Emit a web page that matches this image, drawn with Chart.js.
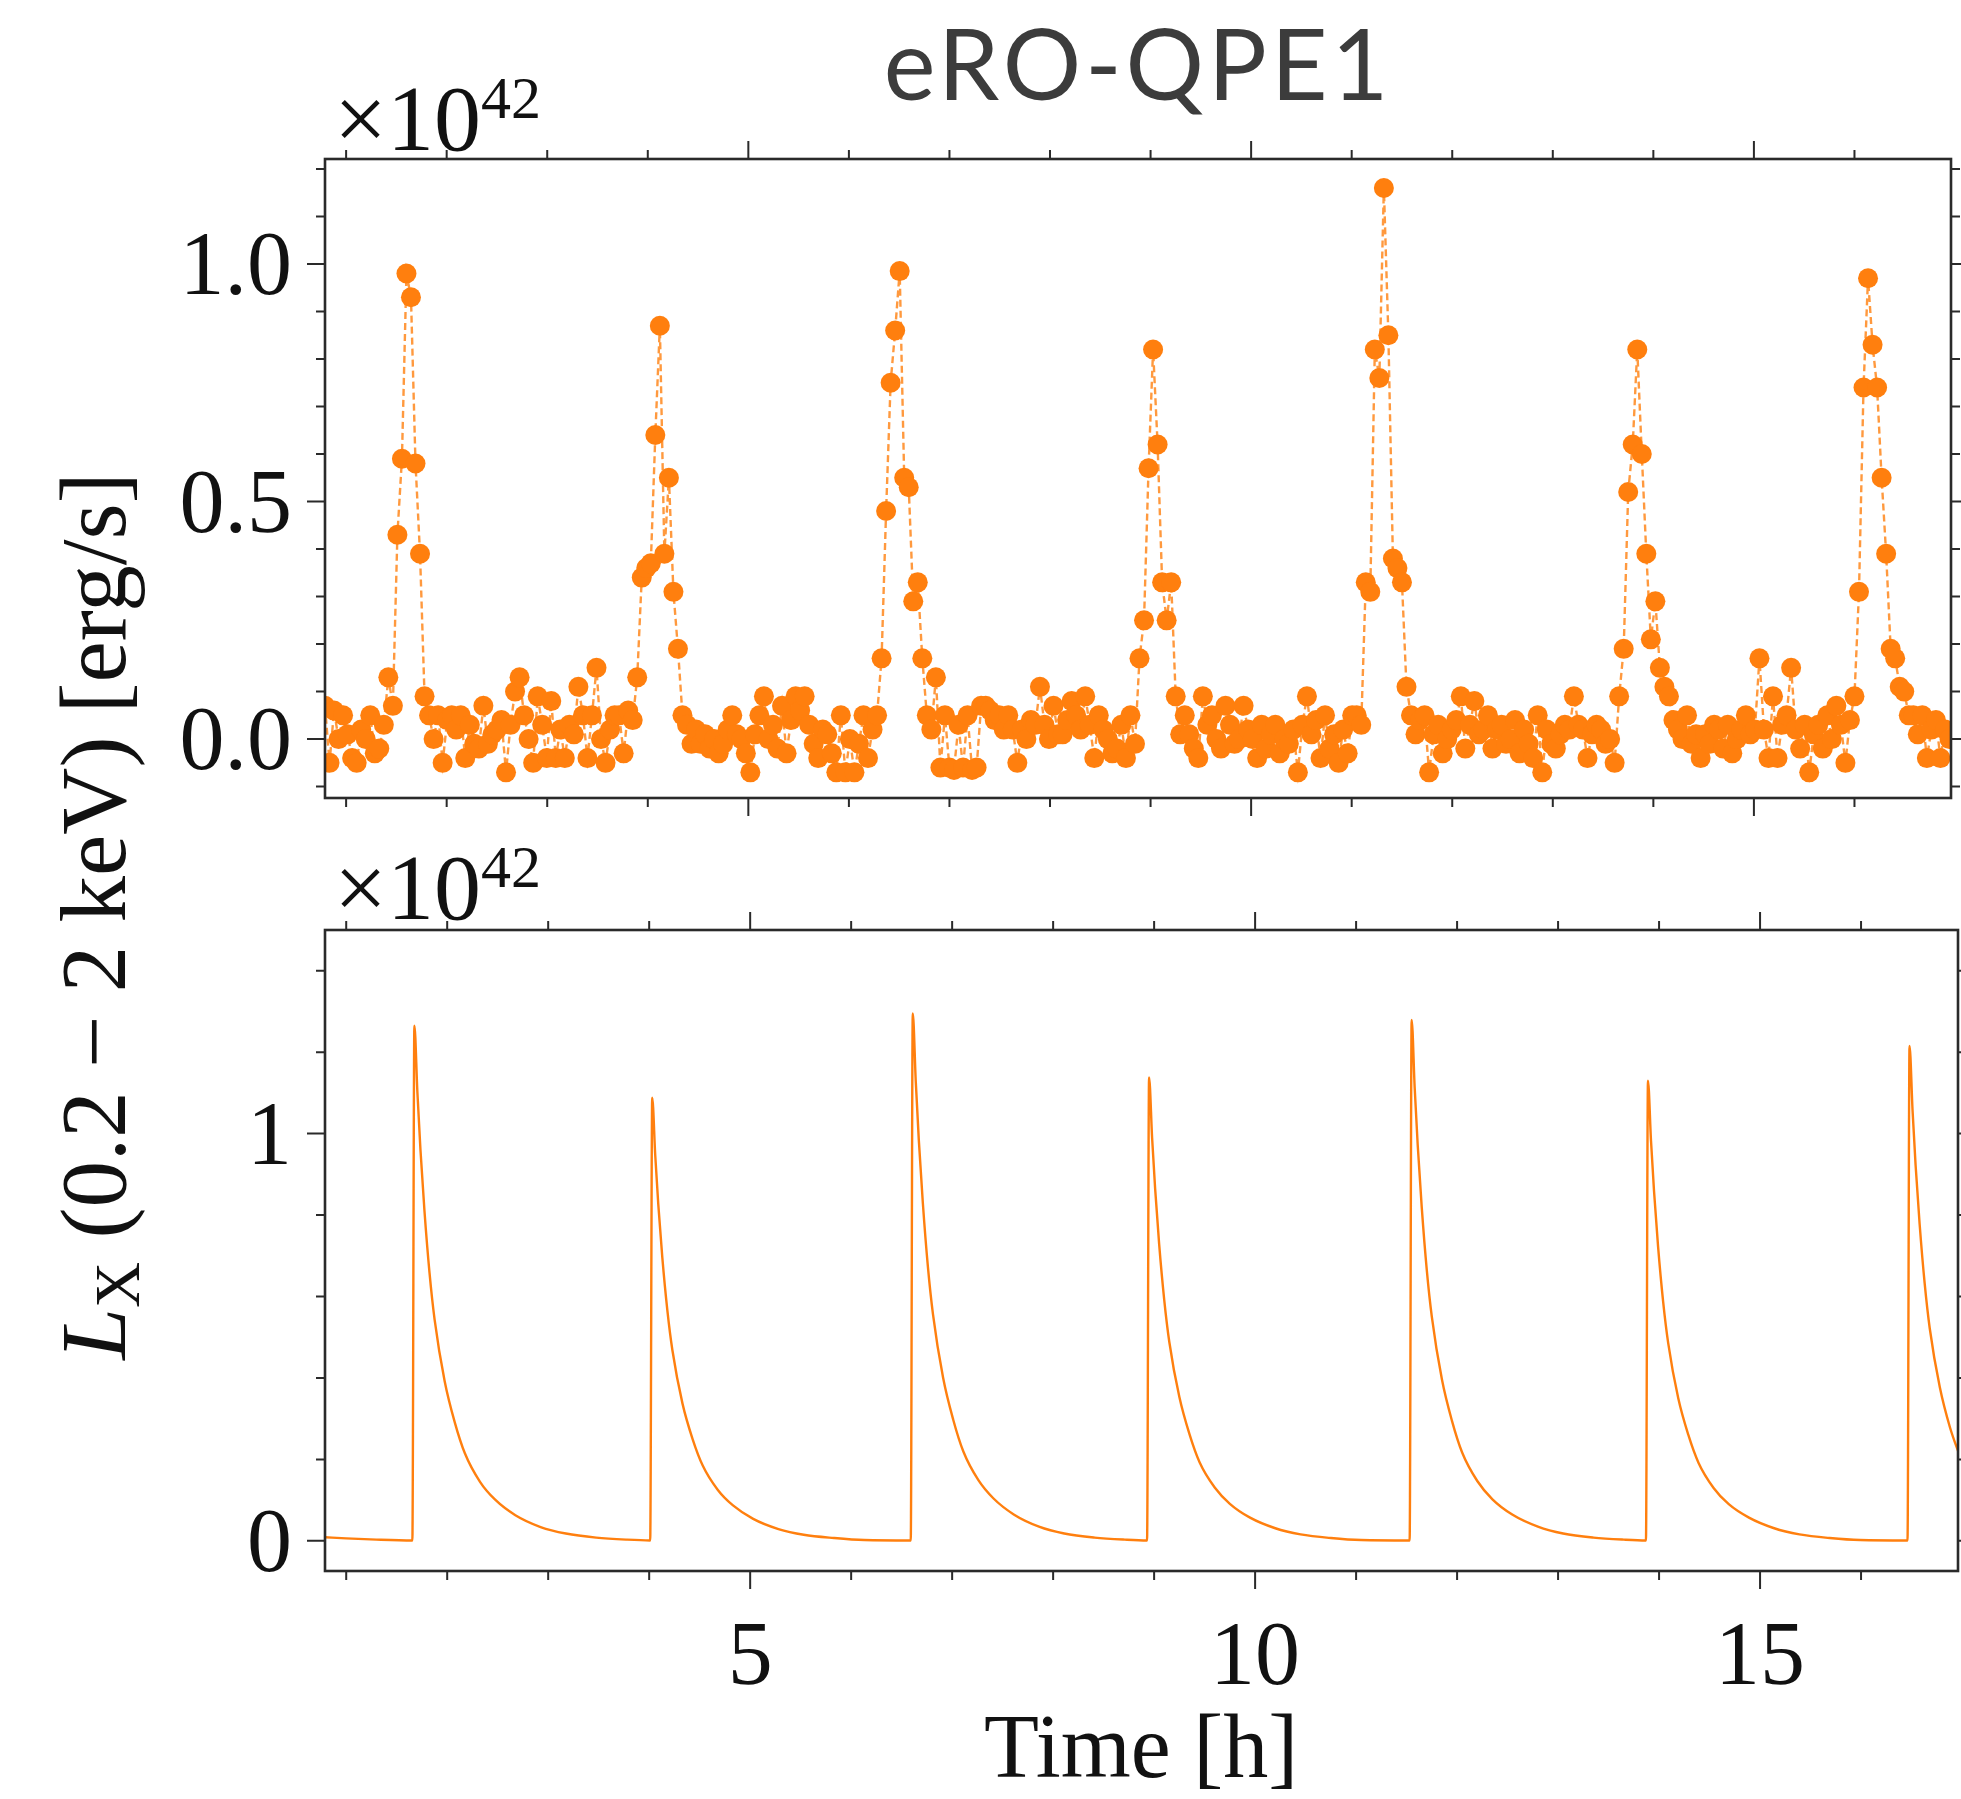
<!DOCTYPE html>
<html>
<head>
<meta charset="utf-8">
<title>eRO-QPE1</title>
<script src="https://cdn.jsdelivr.net/npm/chart.js@4.4.1/dist/chart.umd.min.js"></script>
<style>
  body { margin: 0; background: #fff; }
  #fig { position: relative; width: 1961px; height: 1799px; overflow: hidden; background: #fff; }
  #fig canvas, #fig svg { position: absolute; left: 0; top: 0; }
  #fig svg { pointer-events: none; }
</style>
</head>
<body>
<div id="fig">
  <canvas id="panelObs" width="1961" height="1799"></canvas>
  <canvas id="panelModel" width="1961" height="1799"></canvas>
  <svg width="1961" height="1799" font-family="'Liberation Serif', serif" fill="#111">
    <text x="1138" y="100" text-anchor="middle" font-family="Lato, 'Open Sans', sans-serif" font-size="98" letter-spacing="4" fill="#3c3c3c">eRO-QPE1</text>
    <text x="334" y="150" font-size="94">×10<tspan font-size="60" dy="-32">42</tspan></text>
    <text x="334" y="919" font-size="94">×10<tspan font-size="60" dy="-32">42</tspan></text>
    <text transform="translate(125,916) rotate(-90)" text-anchor="middle" font-size="93"><tspan font-style="italic">L</tspan><tspan font-size="64" dy="14">X</tspan><tspan dy="-14"> (0.2 − 2 keV) [erg/s]</tspan></text>
    <text x="1141" y="1777" text-anchor="middle" font-size="90">Time [h]</text>
  </svg>
</div>
<script>
// light curve bins: start time and cadence [h]
const binStart = 0.79;
const binWidth = 0.045;

// observed 0.2-2 keV luminosity per bin [1e42 erg/s]
const lumObs = [
  0.07, -0.05, 0.06, 0.00, 0.05, 0.01, -0.04, -0.05, 0.02, 0.00, 0.05, -0.03, -0.02,
  // eruption 1
  0.03, 0.13, 0.07, 0.43, 0.59, 0.98, 0.93, 0.58, 0.39, 0.09, 0.05,
  0.00, 0.05, -0.05, 0.04, 0.05, 0.02, 0.05, -0.04, 0.03, -0.01,
  -0.02, 0.07, -0.01, 0.01, 0.02, 0.04, -0.07, 0.03, 0.10, 0.13,
  0.05, 0.00, -0.05, 0.09, 0.03, -0.04, 0.08, -0.04, 0.02, -0.04,
  0.03, 0.01, 0.11, 0.05, -0.04, 0.05, 0.15, 0.00, -0.05, 0.02,
  0.05, 0.05, -0.03, 0.06, 0.04,
  // eruption 2
  0.13, 0.34, 0.36, 0.37, 0.64, 0.87, 0.39, 0.55, 0.31, 0.19, 0.05,
  0.03, -0.01, 0.02, -0.01, 0.01, -0.02, 0.00, -0.03, -0.01, 0.02,
  0.05, 0.01, 0.00, -0.03, -0.07, 0.01, 0.05, 0.09, 0.00, 0.03,
  -0.02, 0.07, -0.03, 0.04, 0.09, 0.06, 0.09, 0.03, -0.01, -0.04,
  0.02, 0.01, -0.03, -0.07, 0.05, -0.07, 0.00, -0.07, -0.01, 0.05,
  -0.04, 0.02, 0.05,
  // eruption 3
  0.17, 0.48, 0.75, 0.86, 0.985, 0.55, 0.53, 0.29, 0.33, 0.17, 0.05, 0.02, 0.13,
  -0.06, 0.05, -0.06, -0.065, 0.03, -0.06, 0.05, -0.065, -0.06, 0.07,
  0.07, 0.06, 0.04, 0.05, 0.02, 0.05, 0.02, -0.05, 0.02, 0.00,
  0.04, 0.03, 0.11, 0.03, 0.00, 0.07, 0.01, 0.01, 0.04, 0.08,
  0.05, 0.02, 0.09, 0.03, -0.04, 0.05, 0.02, 0.00, -0.03, -0.02,
  0.03, -0.04, 0.05, -0.01,
  // eruption 4
  0.17, 0.25, 0.57, 0.82, 0.62, 0.33, 0.25, 0.33, 0.09,
  0.01, 0.05, 0.01, -0.02, -0.04, 0.09, 0.03, 0.05, 0.00, -0.02,
  0.07, 0.03, -0.01, 0.00, 0.07, 0.02, 0.00, -0.04, 0.03, -0.02,
  0.01, 0.03, -0.03, 0.00, -0.01, 0.02, -0.07, 0.03, 0.09, 0.01,
  0.04, -0.04, 0.05, -0.02, 0.01, -0.05, 0.02, -0.03, 0.05, 0.05,
  0.03,
  // eruption 5
  0.33, 0.31, 0.82, 0.76, 1.16, 0.85, 0.38, 0.36, 0.33, 0.11,
  0.05, 0.01, 0.04, 0.05, -0.07, 0.01, 0.03, -0.03, 0.00, 0.02,
  0.04, 0.09, -0.02, 0.03, 0.08, 0.01, 0.02, 0.05, -0.02, 0.02,
  0.03, -0.01, 0.00, 0.04, -0.03, 0.02, -0.01, -0.04, 0.05, -0.07,
  0.02, -0.01, -0.02, 0.01, 0.03, 0.02, 0.09, 0.03, 0.02, -0.04,
  0.01, 0.03, 0.02, -0.01, 0.00, -0.05,
  // eruption 6
  0.09, 0.19, 0.52, 0.62, 0.82, 0.60, 0.39, 0.21, 0.29, 0.15, 0.11, 0.09, 0.04,
  0.02, 0.00, 0.05, -0.01, 0.01, -0.04, 0.01, -0.01, 0.03, 0.02,
  -0.02, 0.03, -0.03, 0.00, 0.02, 0.05, 0.01, 0.02, 0.17, 0.02,
  -0.04, 0.09, -0.04, 0.03, 0.05, 0.15, 0.02, -0.02, 0.03, -0.07,
  0.01, 0.03, -0.02, 0.05, 0.00, 0.07, 0.03, -0.05, 0.04,
  // eruption 7
  0.09, 0.31, 0.74, 0.97, 0.83, 0.74, 0.55, 0.39, 0.19, 0.17,
  0.11, 0.10, 0.05, 0.05, 0.01, 0.05, -0.04, 0.02, 0.04, -0.04,
  0.02, 0.00
];
const obsTime = lumObs.map((_, i) => binStart + i * binWidth);

// model light curve: time [h] and luminosity [1e42 erg/s]
const modelTime = [
  0.79, 1.00, 1.30, 1.655,
  1.675, 1.705, 1.735, 1.775, 1.825, 1.875, 1.975, 2.075, 2.175, 2.325, 2.475, 2.675, 2.925, 3.175, 3.475, 3.775, 4.01,
  4.03, 4.06, 4.09, 4.13, 4.18, 4.23, 4.33, 4.43, 4.53, 4.68, 4.83, 5.03, 5.28, 5.53, 5.83, 6.13, 6.59,
  6.61, 6.64, 6.67, 6.71, 6.76, 6.81, 6.91, 7.01, 7.11, 7.26, 7.41, 7.61, 7.86, 8.11, 8.41, 8.71, 8.93,
  8.95, 8.98, 9.01, 9.05, 9.10, 9.15, 9.25, 9.35, 9.45, 9.60, 9.75, 9.95, 10.20, 10.45, 10.75, 11.05, 11.53,
  11.55, 11.58, 11.61, 11.65, 11.70, 11.75, 11.85, 11.95, 12.05, 12.20, 12.35, 12.55, 12.80, 13.05, 13.35, 13.65, 13.87,
  13.89, 13.92, 13.95, 13.99, 14.04, 14.09, 14.19, 14.29, 14.39, 14.54, 14.69, 14.89, 15.14, 15.39, 15.69, 15.99, 16.46,
  16.48, 16.51, 16.54, 16.58, 16.63, 16.68, 16.78, 16.88, 16.98
];
const modelLum = [
  0.009, 0.006, 0.003, 0.001,
  1.265, 1.101, 0.961, 0.810, 0.658, 0.544, 0.392, 0.291, 0.215, 0.145, 0.101, 0.063, 0.034, 0.018, 0.008, 0.003, 0.001,
  1.088, 0.947, 0.827, 0.696, 0.566, 0.468, 0.337, 0.250, 0.185, 0.125, 0.087, 0.054, 0.029, 0.015, 0.007, 0.002, 0.001,
  1.295, 1.127, 0.984, 0.829, 0.673, 0.557, 0.401, 0.298, 0.220, 0.149, 0.104, 0.065, 0.035, 0.018, 0.008, 0.003, 0.001,
  1.138, 0.990, 0.865, 0.728, 0.592, 0.489, 0.353, 0.262, 0.193, 0.131, 0.091, 0.057, 0.031, 0.016, 0.007, 0.002, 0.001,
  1.279, 1.113, 0.972, 0.819, 0.665, 0.550, 0.396, 0.294, 0.217, 0.147, 0.102, 0.064, 0.035, 0.018, 0.008, 0.003, 0.001,
  1.130, 0.983, 0.859, 0.723, 0.588, 0.486, 0.350, 0.260, 0.192, 0.130, 0.090, 0.057, 0.031, 0.016, 0.007, 0.002, 0.001,
  1.215, 1.057, 0.923, 0.778, 0.632, 0.522, 0.377, 0.279, 0.207
];

// axis ticks
const xMajorTicks = [5, 10, 15];
const xMinorTicks = [1, 2, 3, 4, 6, 7, 8, 9, 11, 12, 13, 14, 16];
const xTickLabels = ['5', '10', '15'];
const obsMajorTicks = [0, 0.5, 1.0];
const obsMinorTicks = [-0.1, 0.1, 0.2, 0.3, 0.4, 0.6, 0.7, 0.8, 0.9, 1.1, 1.2];
const obsTickLabels = ['0.0', '0.5', '1.0'];
const modelMajorTicks = [0, 1];
const modelMinorTicks = [0.2, 0.4, 0.6, 0.8, 1.2, 1.4];
const modelTickLabels = ['0', '1'];

const ORANGE = '#ff7f0e';
const INK = '#2a2a2a';

// boxed axes with outward ticks on all four sides, labels on the left/bottom
const frame = {
  id: 'frame',
  afterDatasetsDraw(chart, args, o) {
    const { ctx, chartArea: a, scales: { x, y } } = chart;
    ctx.save();
    ctx.strokeStyle = INK;
    ctx.lineWidth = 2;
    ctx.beginPath();
    const xt = (v, len) => {
      const px = x.getPixelForValue(v);
      ctx.moveTo(px, a.bottom); ctx.lineTo(px, a.bottom + len);
      ctx.moveTo(px, a.top); ctx.lineTo(px, a.top - len);
    };
    const yt = (v, len) => {
      const py = y.getPixelForValue(v);
      ctx.moveTo(a.left, py); ctx.lineTo(a.left - len, py);
      ctx.moveTo(a.right, py); ctx.lineTo(a.right + len, py);
    };
    o.xMinor.forEach(v => xt(v, 9));
    o.xMajor.forEach(v => xt(v, 18));
    o.yMinor.forEach(v => yt(v, 9));
    o.yMajor.forEach(v => yt(v, 18));
    ctx.stroke();

    ctx.lineWidth = 2.6;
    ctx.strokeRect(a.left, a.top, a.right - a.left, a.bottom - a.top);

    ctx.fillStyle = '#111';
    ctx.font = '90px "Liberation Serif", serif';
    ctx.textBaseline = 'alphabetic';
    ctx.textAlign = 'right';
    o.yMajor.forEach((v, k) => ctx.fillText(o.yLabels[k], a.left - 33, y.getPixelForValue(v) + 30));
    if (o.xLabels) {
      ctx.textAlign = 'center';
      o.xMajor.forEach((v, k) => ctx.fillText(o.xLabels[k], x.getPixelForValue(v), a.bottom + 113));
    }
    ctx.restore();
  }
};

function baseOptions(padding, yMin, yMax, frameOpts) {
  return {
    responsive: false,
    animation: false,
    devicePixelRatio: 1,
    events: [],
    layout: { padding: padding },
    scales: {
      x: { type: 'linear', min: 0.79, max: 16.96, display: false },
      y: { type: 'linear', min: yMin, max: yMax, display: false }
    },
    plugins: { legend: { display: false }, tooltip: { enabled: false }, frame: frameOpts }
  };
}

// upper panel: binned light curve, markers joined by a dashed line
new Chart(document.getElementById('panelObs'), {
  type: 'line',
  data: {
    datasets: [{
      data: obsTime.map((t, i) => ({ x: t, y: lumObs[i] })),
      borderColor: 'rgba(255,127,14,0.8)',
      borderWidth: 2.4,
      borderDash: [7, 4],
      pointRadius: 10,
      pointBackgroundColor: ORANGE,
      pointBorderWidth: 0,
      tension: 0,
      clip: 0
    }]
  },
  options: baseOptions({ left: 325, right: 3, top: 159, bottom: 1001 }, -0.124, 1.221, {
    xMajor: xMajorTicks, xMinor: xMinorTicks, xLabels: null,
    yMajor: obsMajorTicks, yMinor: obsMinorTicks, yLabels: obsTickLabels
  }),
  plugins: [frame]
});

// lower panel: model light curve
new Chart(document.getElementById('panelModel'), {
  type: 'line',
  data: {
    datasets: [{
      data: modelTime.map((t, i) => ({ x: t, y: modelLum[i] })),
      borderColor: ORANGE,
      borderWidth: 2.4,
      pointRadius: 0,
      cubicInterpolationMode: 'monotone',
      clip: 0
    }]
  },
  options: baseOptions({ left: 325, right: 3, top: 930, bottom: 228 }, -0.074, 1.50, {
    xMajor: xMajorTicks, xMinor: xMinorTicks, xLabels: xTickLabels,
    yMajor: modelMajorTicks, yMinor: modelMinorTicks, yLabels: modelTickLabels
  }),
  plugins: [frame]
});
</script>
</body>
</html>
